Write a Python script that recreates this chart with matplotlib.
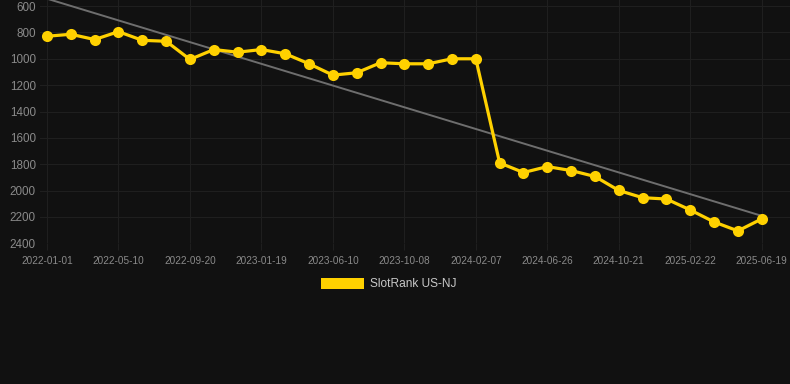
"""SlotRank US-NJ rank history chart."""

import matplotlib

matplotlib.use("Agg")
import matplotlib.pyplot as plt  # noqa: E402
import numpy as np  # noqa: E402

TICK_LABELS = [
    "2022-01-01", "2022-05-10", "2022-09-20", "2023-01-19", "2023-06-10",
    "2023-10-08", "2024-02-07", "2024-06-26", "2024-10-21", "2025-02-22",
    "2025-06-19",
]
RANKS = [
    829, 814, 854, 794, 860, 867, 1005, 930, 950, 930, 962, 1038, 1124, 1106,
    1030, 1038, 1038, 1000, 1000, 1790, 1863, 1818, 1848, 1893, 1999, 2054,
    2064, 2147, 2238, 2306, 2215,
]
Y_TICKS = [600, 800, 1000, 1200, 1400, 1600, 1800, 2000, 2200, 2400]
SERIES_NAME = "SlotRank US-NJ"

BG = "#111111"
GRID = "#1f1f1f"
TEXT = "#8a8a8a"
GOLD = "#FFD100"

plt.rcParams["font.family"] = ["Liberation Sans", "DejaVu Sans"]

fig = plt.figure(figsize=(7.9, 3.84), dpi=100, facecolor=BG)
ax = fig.add_axes([40 / 790, 140.7 / 384, 750 / 790, 243.3 / 384])
ax.set_facecolor(BG)

x = np.arange(len(RANKS))
ranks = np.array(RANKS, dtype=float)

# linear trend over the whole series
slope, intercept = np.polyfit(x, ranks, 1)
ax.plot(x, slope * x + intercept, color="#6e6e6e", linewidth=1.4, zorder=2,
        clip_on=False)

ax.plot(x, ranks, color=GOLD, linewidth=2.3, marker="o", markersize=8,
        markeredgewidth=0, zorder=3, label=SERIES_NAME, clip_on=False)

step = 3
ax.set_xticks(x[::step])
ax.set_xticklabels(TICK_LABELS)
ax.set_xlim(-7 / 23.83, 30 + 28.3 / 23.83)

ax.set_yticks(Y_TICKS)
ax.set_ylim(2400, 554)

ax.grid(True, color=GRID, linewidth=0.8)
ax.set_axisbelow(True)
for spine in ax.spines.values():
    spine.set_visible(False)
ax.tick_params(axis="x", colors=GRID, length=5, width=0.8, pad=4,
               labelcolor=TEXT, labelsize=7.2)
ax.tick_params(axis="y", length=0, pad=3, labelcolor=TEXT, labelsize=8.4)

handle = plt.Rectangle((0, 0), 1, 1, facecolor=GOLD, edgecolor="none")
fig.legend([handle], [SERIES_NAME], loc="center", bbox_to_anchor=(0.492, 1 - 284 / 384),
           frameon=False, handlelength=3.6, handleheight=1.1, handletextpad=0.5,
           fontsize=8.6, labelcolor="#c8c8c8")

fig.savefig("out.png", dpi=100, facecolor=BG)
